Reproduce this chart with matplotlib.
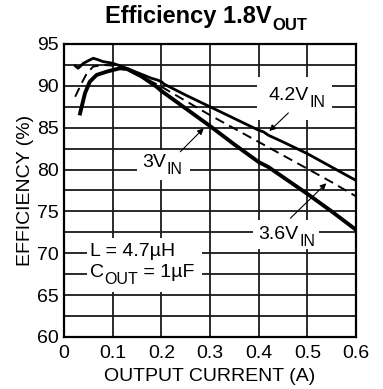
import matplotlib
matplotlib.use('Agg')
import matplotlib.pyplot as plt
from matplotlib.patches import Rectangle
from matplotlib.ticker import MultipleLocator

plt.rcParams['font.family'] = ['Liberation Sans', 'DejaVu Sans']

# efficiency vs output current for three input voltages
i_42 = [0.023, 0.029, 0.040, 0.060, 0.071, 0.080, 0.100, 0.120, 0.150, 0.180, 0.192, 0.200, 0.206,
        0.250, 0.300, 0.350, 0.400, 0.410, 0.420, 0.450, 0.500, 0.550, 0.600]
eff_42 = [92.4, 92.1, 92.7, 93.3, 93.1, 92.9, 92.7, 92.3, 91.6, 90.9, 90.7, 90.5, 90.2,
          88.9, 87.5, 86.1, 84.7, 84.5, 84.1, 83.3, 81.9, 80.3, 78.7]

i_36 = [0.023, 0.036, 0.047, 0.060, 0.081, 0.105, 0.130, 0.160, 0.200, 0.250, 0.300, 0.350,
        0.400, 0.450, 0.500, 0.550, 0.600]
eff_36 = [88.7, 90.3, 91.5, 92.3, 92.5, 92.4, 92.0, 91.1, 89.9, 88.2, 86.5, 84.9,
          83.3, 81.7, 80.1, 78.5, 76.8]

i_30 = [0.033, 0.043, 0.053, 0.067, 0.088, 0.101, 0.115, 0.130, 0.160, 0.190, 0.200, 0.250,
        0.300, 0.350, 0.400, 0.420, 0.450, 0.500, 0.550, 0.600]
eff_30 = [86.7, 89.1, 90.5, 91.3, 91.7, 91.9, 92.1, 92.0, 91.1, 89.9, 89.4, 87.3,
          85.2, 83.0, 80.9, 80.3, 79.1, 77.1, 75.0, 72.8]

x_ticks = [0, 0.1, 0.2, 0.3, 0.4, 0.5, 0.6]
x_tick_labels = ['0', '0.1', '0.2', '0.3', '0.4', '0.5', '0.6']
y_ticks = [60, 65, 70, 75, 80, 85, 90, 95]

fig = plt.figure(figsize=(3.83, 3.89), dpi=100)
ax = fig.add_axes([0.1671, 0.1337, 0.7624, 0.7532])

ax.plot(i_42, eff_42, color='black', lw=2.0, solid_joinstyle='round', zorder=4)
ax.plot(i_36, eff_36, color='black', lw=1.4, dashes=(5, 3), zorder=4)
ax.plot(i_30, eff_30, color='black', lw=2.8, solid_joinstyle='round', zorder=4)

ax.set_xlim(0, 0.6)
ax.set_ylim(60, 95)
ax.set_xticks(x_ticks)
ax.set_xticklabels(x_tick_labels)
ax.set_yticks(y_ticks)
ax.yaxis.set_minor_locator(MultipleLocator(2.5))
ax.tick_params(which='both', length=0, labelsize=14, colors='black')
ax.tick_params(axis='x', pad=6)
ax.tick_params(axis='y', pad=4)
ax.grid(True, which='both', color='#1a1a1a', lw=1.3, zorder=1)
ax.set_axisbelow(True)
for s in ax.spines.values():
    s.set_linewidth(1.6)
    s.set_zorder(5)

ax.set_xlabel('OUTPUT CURRENT (A)', fontsize=14, labelpad=4)
ax.set_ylabel('EFFICIENCY (%)', fontsize=14, labelpad=2)

# white patches behind the labels break the grid
for (x0, y0, w, h) in [(0.047, 65.4, 0.237, 6.4), (0.150, 78.75, 0.109, 3.55),
                       (0.397, 85.9, 0.154, 5.2), (0.389, 70.5, 0.134, 3.5)]:
    ax.add_patch(Rectangle((x0, y0), w, h, facecolor='white', edgecolor='none', zorder=2))

renderer = fig.canvas.get_renderer()


def sub_label(x, y, main, sub, size=14, sub_size=11.5, drop=5.2, tail='', coords='data', **kw):
    # main text, then a lowered subscript and optional trailing text
    t = ax.annotate(main, (x, y), xycoords=coords, fontsize=size, ha='left', va='baseline',
                    annotation_clip=False, zorder=6, **kw)
    w = t.get_window_extent(renderer).width * 72 / fig.dpi
    s = ax.annotate(sub, (x, y), xycoords=coords, xytext=(w + 0.5, -drop),
                    textcoords='offset points', fontsize=sub_size, ha='left', va='baseline',
                    annotation_clip=False, zorder=6, **kw)
    if tail:
        w2 = s.get_window_extent(renderer).width * 72 / fig.dpi
        ax.annotate(tail, (x, y), xycoords=coords, xytext=(w + w2 + 0.5, 0),
                    textcoords='offset points', fontsize=size, ha='left', va='baseline',
                    annotation_clip=False, zorder=6, **kw)


sub_label(0.420, 88.3, '4.2V', 'IN')
sub_label(0.160, 80.3, '3V', 'IN')
sub_label(0.400, 71.7, '3.6V', 'IN')
ax.text(0.0535, 69.7, 'L = 4.7µH', fontsize=14, ha='left', va='baseline', zorder=6)
sub_label(0.0535, 67.2, 'C', 'OUT', drop=5.0, tail=' = 1µF')

# title, centred over the plot area
sub_label(0.140, 1.0717, 'Efficiency 1.8V', 'OUT', size=17, sub_size=12, drop=5.0,
          coords='axes fraction', fontweight='bold')

arrow = dict(arrowstyle='-|>', lw=0.8, color='black', mutation_scale=9, shrinkA=0, shrinkB=0)
ax.annotate('', xy=(0.422, 84.6), xytext=(0.461, 86.76), arrowprops=arrow, zorder=6)
ax.annotate('', xy=(0.287, 84.93), xytext=(0.239, 82.13), arrowprops=arrow, zorder=6)
ax.annotate('', xy=(0.539, 78.36), xytext=(0.465, 74.18), arrowprops=arrow, zorder=6)

fig.savefig('out.png', dpi=100)
